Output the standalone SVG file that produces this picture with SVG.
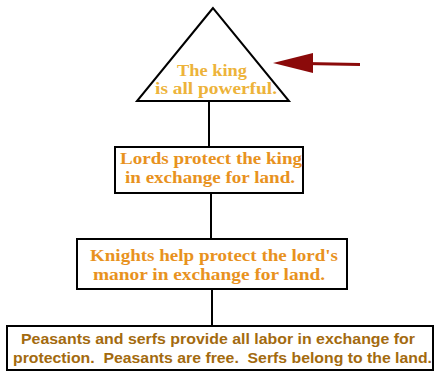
<svg xmlns="http://www.w3.org/2000/svg" width="443" height="379" viewBox="0 0 443 379">
<defs>
<style>
.box{fill:#fff;stroke:#000;stroke-width:2}
.con{stroke:#000;stroke-width:2;fill:none}
.serif{font-family:"Liberation Serif","Times New Roman",serif;font-weight:bold;font-size:16.5px}
.king{fill:#EDB33A}
.orange{fill:#E8921E}
.sans{font-family:"Liberation Sans",Arial,sans-serif;font-weight:bold;font-size:15px;fill:#A36A0E;white-space:pre}
</style>
</defs>
<rect width="443" height="379" fill="#fff"/>
<g id="connectors">
<line class="con" x1="209" y1="101" x2="209" y2="147"/>
<line class="con" x1="211" y1="193" x2="211" y2="239"/>
<line class="con" x1="212" y1="289" x2="212" y2="326"/>
</g>
<g id="king">
<polygon class="box" points="213,8 137,101 289,101"/>
<text class="serif king" x="177" y="76" textLength="70" lengthAdjust="spacingAndGlyphs">The king</text>
<text class="serif king" x="155" y="94" textLength="122" lengthAdjust="spacingAndGlyphs">is all powerful.</text>
</g>
<g id="arrow">
<line x1="305" y1="63.5" x2="360" y2="64.5" stroke="#8B0A0A" stroke-width="3"/>
<polygon points="273,63 313,53 313,73" fill="#8B0A0A"/>
</g>
<g id="lords">
<rect class="box" x="115" y="147" width="188" height="46"/>
<text class="serif orange" x="120" y="164" textLength="182" lengthAdjust="spacingAndGlyphs">Lords protect the king</text>
<text class="serif orange" x="125" y="183" textLength="170" lengthAdjust="spacingAndGlyphs">in exchange for land.</text>
</g>
<g id="knights">
<rect class="box" x="77" y="239" width="270" height="50"/>
<text class="serif orange" x="90" y="261" textLength="248" lengthAdjust="spacingAndGlyphs">Knights help protect the lord's</text>
<text class="serif orange" x="93" y="280" textLength="232" lengthAdjust="spacingAndGlyphs">manor in exchange for land.</text>
</g>
<g id="peasants">
<rect class="box" x="7" y="326" width="426" height="44"/>
<text class="sans" x="21" y="344" textLength="394" lengthAdjust="spacingAndGlyphs">Peasants and serfs provide all labor in exchange for</text>
<text class="sans" x="13" y="363" textLength="419" lengthAdjust="spacingAndGlyphs">protection.  Peasants are free.  Serfs belong to the land.</text>
</g>
</svg>
